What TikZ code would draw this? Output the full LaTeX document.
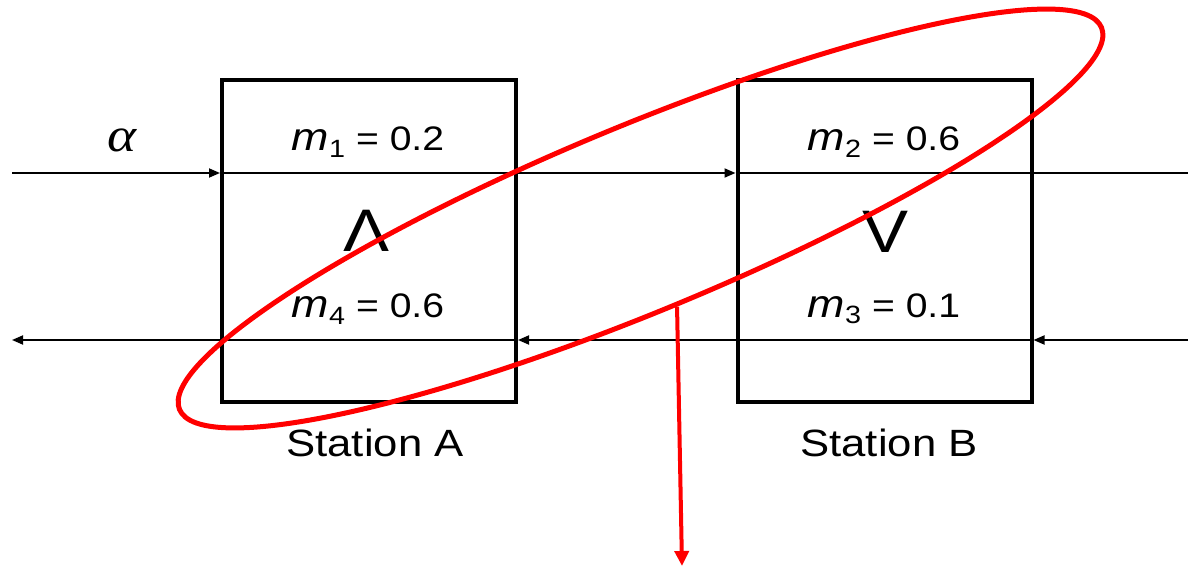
\documentclass[tikz,border=0pt]{standalone}
\usepackage{fontspec}
\usepackage{graphicx}
\setmainfont{Liberation Sans}
\newfontfamily\serifit{Liberation Serif}
\usetikzlibrary{arrows.meta,shapes.geometric,calc}
\newcommand\hs[1]{\scalebox{1.15}[1]{#1}}
\newcommand\mval[2]{\hs{{\fontsize{39}{39}\selectfont\itshape m}\raisebox{-0.35ex}{\fontsize{25}{25}\selectfont #1}\ =\ #2}}
\begin{document}
\begin{tikzpicture}[x=1pt,y=-1pt,
  box/.style={draw, line width=4pt, minimum width=294pt, minimum height=322pt, inner sep=0pt},
  flow/.style={line width=1.8pt, -{Triangle[width=9pt,length=11pt]}},
  plain/.style={line width=1.8pt},
  lbl/.style={font=\fontsize{34}{34}\selectfont, inner sep=0pt},
  big/.style={font=\fontsize{60}{60}\selectfont, inner sep=0pt},
  st/.style={font=\fontsize{38}{38}\selectfont, inner sep=0pt},
  loop/.style={draw=red, line width=5pt, ellipse, inner sep=0pt},
  redarr/.style={draw=red, line width=4pt, -{Triangle[width=14pt,length=15pt]}}]
\useasboundingbox (0,0) rectangle (1188,567);
\node[box] (A) at (369,241) {};
\node[box] (B) at (884.5,241) {};
\coordinate (inT) at (12,173);
\coordinate (outT) at (1188,173);
\coordinate (inB) at (1188,340);
\coordinate (outB) at (12,340);
\draw[flow] (inT) -- (inT -| A.west);
\draw[plain] (inT -| A.west) -- (inT -| A.east);
\draw[flow] (inT -| A.east) -- (inT -| B.west);
\draw[plain] (inT -| B.west) -- (outT);
\draw[flow] (inB) -- (inB -| B.east);
\draw[plain] (inB -| B.east) -- (inB -| B.west);
\draw[flow] (inB -| B.west) -- (inB -| A.east);
\draw[plain] (inB -| A.east) -- (inB -| A.west);
\draw[flow] (inB -| A.west) -- (outB);
\node[lbl] (m1) at (368,142) {\mval{1}{0.2}};
\node[lbl] (m2) at (884,142) {\mval{2}{0.6}};
\node[lbl] (m4) at (368,309) {\mval{4}{0.6}};
\node[lbl] (m3) at (884,309) {\mval{3}{0.1}};
\node[big] (LA) at (367,231) {\hs{Λ}};
\node[big] (VB) at (885,232) {\hs{V}};
\node[st] (sA) at (375,443) {\hs{Station A}};
\node[st] (sB) at (889,443) {\hs{Station B}};
\node[inner sep=0pt, font=\fontsize{48}{48}\selectfont] (al) at (122,140) {\hs{\serifit\itshape α}};
\node[loop, minimum width=998pt, minimum height=186pt, rotate=22.5] (E) at (640.5,218.5) {};
\coordinate (rend) at (682,566);
\draw[redarr] (E.south) -- (rend);
\end{tikzpicture}
\end{document}
